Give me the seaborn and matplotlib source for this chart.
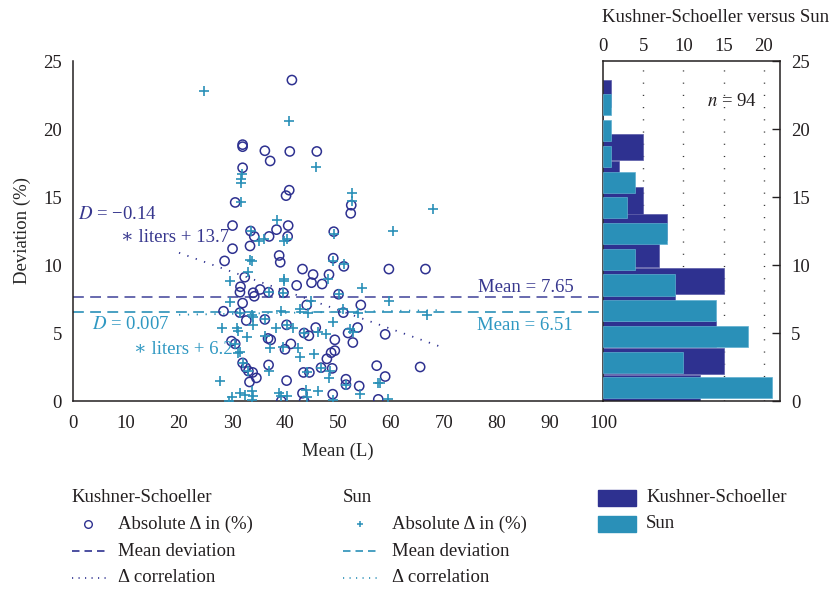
import numpy as np
import pandas as pd
import matplotlib
matplotlib.use("Agg")
import matplotlib.pyplot as plt
from matplotlib.patches import Rectangle
import seaborn as sns

# ---------------- data ----------------
ks_mean = [41.3, 32.0, 32.0, 36.2, 40.9, 46.0, 37.2, 32.0, 40.8, 40.2,
           30.6, 52.5, 52.4, 30.1, 40.6, 38.4, 33.5, 49.2, 34.2, 37.0,
           40.5, 33.4, 30.1, 38.9, 49.1, 28.6, 39.1, 51.1, 43.3, 59.6,
           66.5, 45.3, 48.3, 32.4, 45.0, 42.2, 31.6, 35.3, 31.5, 34.0,
           36.9, 39.7, 50.1, 34.2, 32.0, 44.1, 54.3, 28.4, 31.5, 51.0,
           36.2, 32.7, 40.3, 45.8, 53.7, 43.6, 51.9, 58.9, 44.5, 36.8,
           37.3, 49.4, 29.9, 52.8, 30.6, 41.1, 40.0, 48.7, 47.9, 32.0,
           36.9, 57.3, 32.6, 46.8, 65.5, 48.9, 33.1, 33.9, 43.5, 44.6,
           58.9, 34.6, 51.5, 40.3, 33.3, 51.5, 54.0, 43.3, 49.0, 57.6,
           39.3, 43.6, 49.4, 47.0]
ks_dev = [23.6, 18.85, 18.7, 18.4, 18.35, 18.35, 17.65, 17.15, 15.5, 15.1,
          14.6, 14.4, 13.8, 12.9, 12.9, 12.6, 12.5, 12.45, 12.1, 12.1,
          12.1, 11.4, 11.2, 10.7, 10.5, 10.3, 10.2, 9.9, 9.7, 9.7,
          9.7, 9.3, 9.3, 9.1, 8.7, 8.5, 8.4, 8.2, 8.0, 7.96,
          8.0, 7.96, 7.85, 7.7, 7.2, 7.06, 7.06, 6.6, 6.5, 6.5,
          6.0, 5.92, 5.6, 5.4, 5.4, 5.0, 5.0, 4.9, 4.8, 4.6,
          4.5, 4.5, 4.4, 4.3, 4.2, 4.2, 3.8, 3.55, 3.1, 2.8,
          2.65, 2.6, 2.45, 2.45, 2.5, 2.4, 2.2, 2.1, 2.1, 2.1,
          1.8, 1.7, 1.6, 1.5, 1.4, 1.2, 1.1, 0.57, 0.5, 0.12,
          0.0, 0.0, 3.7, 8.6]

sun_mean = [24.7, 40.7, 45.8, 31.8, 31.7, 52.7, 52.6, 31.7, 68.0, 38.5,
            49.2, 60.4, 35.0, 36.0, 39.9, 40.3, 33.4, 33.8, 49.1, 51.2,
            33.1, 48.2, 29.6, 39.8, 39.8, 54.6, 36.9, 39.7, 50.1, 44.9,
            59.6, 29.6, 51.0, 42.8, 39.2, 44.4, 53.8, 66.7, 33.7, 33.9,
            49.1, 33.9, 28.1, 30.9, 31.2, 38.3, 41.6, 46.3, 47.7, 52.3,
            52.9, 36.2, 32.8, 39.7, 37.2, 42.5, 31.1, 31.5, 45.5, 42.8,
            48.5, 36.9, 44.1, 48.3, 27.7, 51.5, 57.6, 57.9, 43.9, 46.3,
            33.7, 31.5, 38.9, 39.3, 40.4, 32.5, 34.0, 30.0, 29.5, 33.7,
            44.2, 54.2, 59.5, 49.0, 33.5, 31.5, 36.2, 43.6, 30.6, 40.3,
            32.0, 33.1, 46.8, 31.7]
sun_dev = [22.8, 20.6, 17.2, 16.7, 16.0, 15.3, 14.7, 14.6, 14.1, 13.3,
           12.3, 12.5, 11.8, 11.9, 11.8, 11.9, 10.4, 10.3, 10.3, 10.1,
           9.45, 8.95, 8.8, 9.0, 8.8, 8.3, 8.0, 7.96, 7.85, 7.35,
           7.35, 7.25, 6.75, 6.75, 6.6, 6.45, 6.5, 6.3, 6.3, 6.2,
           5.8, 5.6, 5.4, 5.4, 5.15, 5.35, 5.35, 5.1, 4.9, 5.3,
           5.1, 4.8, 4.7, 4.0, 3.9, 3.9, 3.5, 3.6, 3.45, 3.25,
           2.2, 2.2, 2.15, 1.7, 1.5, 1.2, 1.35, 1.3, 0.8, 0.74,
           0.74, 0.57, 0.57, 0.35, 0.35, 0.44, 0.4, 0.3, 0.02, 0.08,
           0.3, 0.5, 0.12, 0.05, 12.5, 6.5, 6.0, 5.0, 4.2, 5.6,
           2.8, 2.2, 2.45, 16.3]

ks_mean_dev = 7.65
sun_mean_dev = 6.51
ks_slope, ks_intercept = -0.14, 13.7
sun_slope, sun_intercept = 0.007, 6.2
corr_x = [20, 70]

ks_hist_counts = [12, 15, 14, 9, 15, 7, 8, 5, 2, 5, 0, 1]
ks_hist_range = (0.0, 23.6)
sun_hist_counts = [21, 10, 18, 14, 9, 4, 8, 3, 4, 1, 1, 1]
sun_hist_range = (0.02, 22.72)
n_subjects = 94

x_ticks = [0, 10, 20, 30, 40, 50, 60, 70, 80, 90, 100]
y_ticks = [0, 5, 10, 15, 20, 25]
hist_ticks = [0, 5, 10, 15, 20]

# ---------------- style ----------------
NAVY = "#2e3190"
TEAL = "#2a90b8"
NAVY_TXT = "#37378e"
TEAL_TXT = "#2f98c2"
INK = "#231f20"
FS = 13.5

sns.set_theme(style="white")
plt.rcParams["font.family"] = ["Liberation Serif", "DejaVu Serif"]
plt.rcParams["mathtext.fontset"] = "stix"
plt.rcParams["text.color"] = INK
plt.rcParams["axes.edgecolor"] = INK
plt.rcParams["xtick.color"] = INK
plt.rcParams["ytick.color"] = INK

fig = plt.figure(figsize=(8.3, 5.9), dpi=100)
W, H = 830.0, 590.0

# legend / layout layer in pixel coordinates
lay = fig.add_axes([0, 0, 1, 1], zorder=0)
lay.set_xlim(0, W)
lay.set_ylim(H, 0)
lay.axis("off")

ax = fig.add_axes([73 / W, 1 - 401 / H, 530 / W, 340 / H], zorder=2)
axh = fig.add_axes([603 / W, 1 - 401 / H, 177 / W, 340 / H], zorder=1)
ax.patch.set_alpha(0)

df_ks = pd.DataFrame({"mean": ks_mean, "dev": ks_dev})
df_sun = pd.DataFrame({"mean": sun_mean, "dev": sun_dev})

# mean lines
ax.axhline(ks_mean_dev, color=NAVY, lw=1.2, dashes=(6.5, 3.8), alpha=0.85, zorder=1)
ax.axhline(sun_mean_dev, color=TEAL, lw=1.2, dashes=(6.5, 3.8), zorder=1)

# correlation lines
cx = np.array(corr_x, dtype=float)
ax.plot(cx, ks_slope * cx + ks_intercept, color=NAVY, lw=1.3, dashes=(0.7, 4.2), zorder=1)
ax.plot(cx, sun_slope * cx + sun_intercept, color=TEAL, lw=1.3, dashes=(0.7, 4.2), zorder=1)

# scatter
sns.scatterplot(data=df_ks, x="mean", y="dev", ax=ax, marker="o", s=44,
                facecolor="none", edgecolor=NAVY, color=NAVY, linewidth=1.1, zorder=3)
sns.scatterplot(data=df_sun, x="mean", y="dev", ax=ax, marker="+", s=42,
                color=TEAL, linewidth=1.2, zorder=4)

ax.set_xlim(0, 100)
ax.set_ylim(0, 25)
ax.set_xticks(x_ticks)
ax.set_yticks(y_ticks)
ax.tick_params(direction="in", length=5, width=1, labelsize=FS)
ax.tick_params(axis="x", pad=10)
ax.tick_params(axis="y", pad=8)
ax.set_xlabel("Mean (L)", fontsize=FS, labelpad=8)
ax.set_ylabel("Deviation (%)", fontsize=FS, labelpad=9)
for s in ["top", "right"]:
    ax.spines[s].set_visible(False)
for s in ["left", "bottom"]:
    ax.spines[s].set_linewidth(1.1)

# annotations
ax.text(0.9, 13.7, "$D$ = \u22120.14", color=NAVY_TXT, fontsize=FS,
        ha="left", va="center")
ax.text(9.0, 12.0, "\u2217 liters + 13.7", color=NAVY_TXT, fontsize=FS, ha="left", va="center")
ax.text(3.6, 5.6, "$D$ = 0.007", color=TEAL_TXT, fontsize=FS, ha="left", va="center")
ax.text(11.5, 3.75, "\u2217 liters + 6.2", color=TEAL_TXT, fontsize=FS, ha="left", va="center")
ax.text(76.4, 8.35, "Mean = 7.65", color=NAVY_TXT, fontsize=FS, ha="left", va="center")
ax.text(76.2, 5.55, "Mean = 6.51", color=TEAL_TXT, fontsize=FS, ha="left", va="center")

# histogram panel
ke = np.linspace(ks_hist_range[0], ks_hist_range[1], len(ks_hist_counts) + 1)
kc = (ke[:-1] + ke[1:]) / 2
se = np.linspace(sun_hist_range[0], sun_hist_range[1], len(sun_hist_counts) + 1)
sc = (se[:-1] + se[1:]) / 2
axh.barh(kc, ks_hist_counts, height=(ke[1] - ke[0]) * 0.98, color=NAVY,
         edgecolor="#5b5ba8", linewidth=0.5, zorder=2)
axh.barh(sc, sun_hist_counts, height=(se[1] - se[0]) * 0.82, color=TEAL,
         edgecolor="#5fb0d0", linewidth=0.5, zorder=3)
axh.set_xlim(0, 22)
axh.set_ylim(0, 25)
axh.set_xticks(hist_ticks)
axh.set_yticks(y_ticks)
axh.xaxis.tick_top()
axh.yaxis.tick_right()
axh.tick_params(axis="x", direction="in", length=0, labelsize=FS, pad=4)
axh.tick_params(axis="y", direction="in", length=6, width=1, labelsize=FS, pad=8)
for g in hist_ticks[1:]:
    axh.axvline(g, color="#333333", lw=1.0, dashes=(0.8, 8), zorder=1)
for s in axh.spines.values():
    s.set_linewidth(1.1)
axh.text(16.0, 22.0, "$n$ = %d" % n_subjects, fontsize=FS, ha="center", va="center")
fig.text(716 / W, 1 - 17 / H, "Kushner-Schoeller versus Sun", fontsize=FS,
         ha="center", va="center")

# ---------------- legend block ----------------
def ltxt(x, y, s):
    lay.text(x, y, s, fontsize=FS, ha="left", va="center", color=INK)

# Kushner-Schoeller column
ltxt(71, 498, "Kushner-Schoeller")
lay.plot([88], [524], marker="o", ms=5.5, mfc="none", mec=NAVY, mew=1.0, ls="none")
ltxt(118, 524, "Absolute \u0394 in (%)")
lay.plot([72, 107], [551, 551], color=NAVY, lw=1.2, dashes=(4.5, 3))
ltxt(118, 551, "Mean deviation")
lay.plot([72, 107], [578, 578], color=NAVY, lw=1.2, dashes=(0.7, 3.2))
ltxt(118, 578, "\u0394 correlation")

# Sun column
ltxt(343, 498, "Sun")
lay.plot([360], [524], marker="+", ms=5, mec=TEAL, mew=1.1, ls="none")
ltxt(392, 524, "Absolute \u0394 in (%)")
lay.plot([343, 378], [551, 551], color=TEAL, lw=1.2, dashes=(4.5, 3))
ltxt(392, 551, "Mean deviation")
lay.plot([343, 378], [578, 578], color=TEAL, lw=1.2, dashes=(0.7, 3.2))
ltxt(392, 578, "\u0394 correlation")

# bar legend
lay.add_patch(Rectangle((598, 490), 38, 16, color=NAVY))
lay.add_patch(Rectangle((598, 516), 38, 16, color=TEAL))
ltxt(646, 498, "Kushner-Schoeller")
ltxt(646, 524, "Sun")

fig.savefig("out.png", dpi=100)
